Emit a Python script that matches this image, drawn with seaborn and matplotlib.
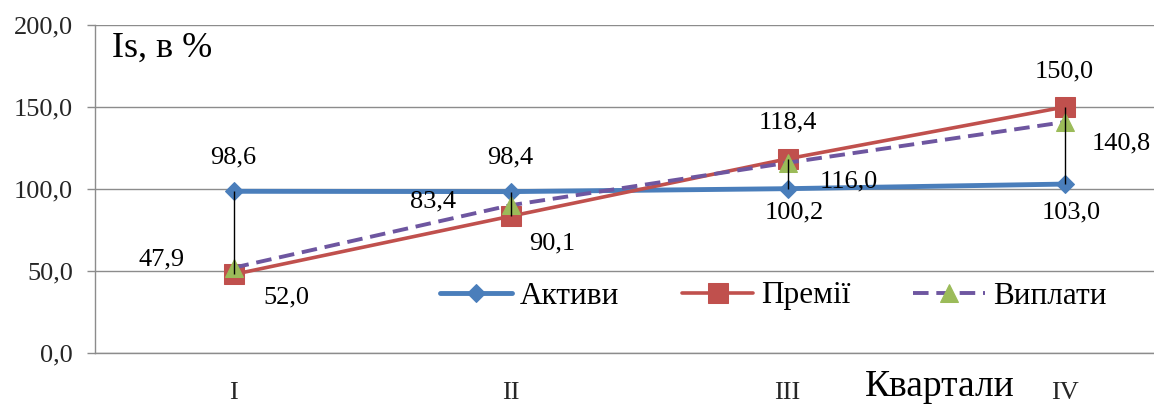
import numpy as np
import pandas as pd
import matplotlib
matplotlib.use("Agg")
import matplotlib.pyplot as plt
import seaborn as sns

# ---- data ----
quarters = ["I", "II", "III", "IV"]
aktyvy = [98.6, 98.4, 100.2, 103.0]
premii = [47.9, 83.4, 118.4, 150.0]
vyplaty = [52.0, 90.1, 116.0, 140.8]
series_names = ["Активи", "Премії", "Виплати"]
y_ticks = [0, 50, 100, 150, 200]
y_title = "Is, в %"
x_title = "Квартали"

# ---- styles / label placement (pixel offsets) ----
colors = {"Активи": "#4A7EBB", "Премії": "#C0504D", "Виплати": "#6E56A0"}
tri_color = "#9BBB59"
label_offsets = {
    "Активи": [(0, 34), (0, 34), (7, -24), (7, -28)],
    "Премії": [(-72, 15), (-78, 15), (0, 36), (0, 36)],
    "Виплати": [(53, -30), (42, -38), (61, -19), (57, -21)],
}

sns.set_theme(style="white")
plt.rcParams["font.family"] = ["Liberation Serif", "DejaVu Serif"]
plt.rcParams["text.color"] = "black"

W, H = 1154, 405
fig = plt.figure(figsize=(W / 100, H / 100), dpi=100)
fig.patch.set_facecolor("white")
ax = fig.add_axes([95 / W, (H - 353) / H, (W - 95) / W, (353 - 25) / H])

x = np.arange(len(quarters))
df = pd.DataFrame({"q": x, "Активи": aktyvy, "Премії": premii, "Виплати": vyplaty})

sns.lineplot(data=df, x="q", y="Активи", ax=ax, color=colors["Активи"], lw=3.5,
             marker="D", markersize=9, mec=colors["Активи"], mfc=colors["Активи"],
             label="Активи", zorder=3)
sns.lineplot(data=df, x="q", y="Премії", ax=ax, color=colors["Премії"], lw=2.6,
             marker="s", markersize=14, mec=colors["Премії"], mfc=colors["Премії"],
             label="Премії", zorder=4)
sns.lineplot(data=df, x="q", y="Виплати", ax=ax, color=colors["Виплати"], lw=2.8,
             linestyle=(0, (4, 2)), marker="^", markersize=13, mec=tri_color,
             mfc=tri_color, label="Виплати", zorder=5)

# high-low lines
allv = np.vstack([aktyvy, premii, vyplaty])
ax.vlines(x, allv.min(axis=0), allv.max(axis=0), color="black", lw=1, zorder=6)

# data labels
for name, vals in zip(series_names, [aktyvy, premii, vyplaty]):
    for xi, v, off in zip(x, vals, label_offsets[name]):
        ax.annotate(f"{v:.1f}".replace(".", ","), (xi, v), xytext=off,
                    textcoords="offset pixels", ha="center", va="center",
                    fontsize=19, zorder=7)

ax.set_xlim(-0.5, 3.323)
ax.set_ylim(0, 200)
ax.set_yticks(y_ticks)
ax.set_yticklabels([f"{v:.1f}".replace(".", ",") for v in y_ticks], fontsize=19)
ax.set_xticks(x)
ax.set_xticklabels(quarters, fontsize=19)
ax.tick_params(axis="y", length=6, width=1, color="#8c8c8c", pad=10, left=True)
ax.tick_params(axis="x", length=0, pad=21)
ax.yaxis.grid(True, color="#8c8c8c", lw=1)
ax.set_axisbelow(True)
for s in ["top", "right"]:
    ax.spines[s].set_visible(False)
for s in ["left", "bottom"]:
    ax.spines[s].set_color("#8c8c8c")
    ax.spines[s].set_linewidth(1)
ax.set_xlabel("")
ax.set_ylabel("")

handles, labels = ax.get_legend_handles_labels()
ax.legend(handles, labels, ncol=3, frameon=False, fontsize=22.5,
          loc="center left", bbox_to_anchor=(440 / W, 1 - 296 / H),
          bbox_transform=fig.transFigure, borderpad=0, borderaxespad=0,
          handlelength=2.3, handletextpad=0.25, columnspacing=2.0)

fig.text(112 / W, 1 - 57 / H, y_title, fontsize=26, va="baseline", ha="left")
fig.text(865 / W, 1 - 396 / H, x_title, fontsize=27, va="baseline", ha="left")

fig.savefig("out.png", dpi=100, facecolor="white")
